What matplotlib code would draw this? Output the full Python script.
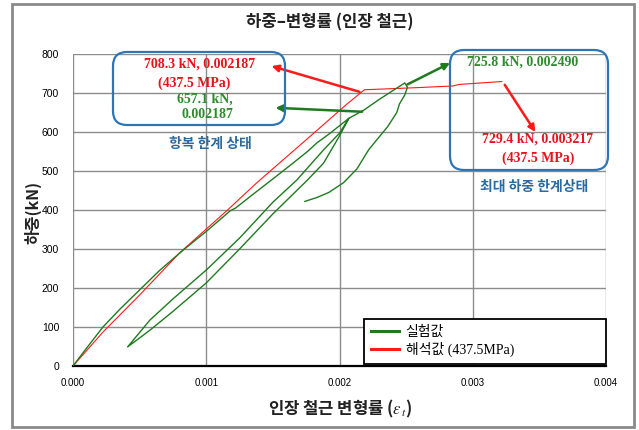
import matplotlib
matplotlib.use("Agg")
import matplotlib.pyplot as plt
from matplotlib.patches import FancyBboxPatch, Rectangle
from matplotlib.lines import Line2D

plt.rcParams['font.family'] = ['Noto Sans CJK KR', 'DejaVu Sans']
plt.rcParams['mathtext.fontset'] = 'stix'
plt.rcParams['axes.unicode_minus'] = False

# 실험값: 초기 재하 -> 제하 -> 재재하 -> 최대하중 -> 제하
exp_strain = [0.0, 0.0001, 0.000225, 0.00035, 0.0005, 0.00065, 0.000826, 0.001,
              0.00118, 0.00122, 0.00135, 0.00149, 0.00165, 0.00176, 0.00183,
              0.00193, 0.00207,
              0.00200, 0.00188, 0.00176, 0.0015, 0.00125, 0.001, 0.00075,
              0.000578, 0.00041,
              0.000578, 0.00075, 0.001, 0.00125, 0.0015, 0.00168, 0.00188,
              0.00200, 0.00207,
              0.002187, 0.0023, 0.0024, 0.00249,
              0.00251, 0.00249, 0.00245, 0.00243, 0.00236, 0.00228, 0.00222,
              0.00213, 0.00203, 0.00192, 0.00183, 0.00174]
exp_load = [0, 45, 100, 145, 195, 245, 297, 345,
            398, 405, 440, 477, 520, 550, 572,
            597, 635,
            590, 520, 477, 390, 300, 213, 140,
            92, 49,
            118, 172, 246, 328, 420, 477, 554,
            597, 635,
            657.1, 684, 706, 725.8,
            715, 695, 672, 650, 613, 580, 555,
            505, 470, 445, 432, 422]

# 해석값 (437.5MPa)
ana_strain = [0.0, 0.000225, 0.0005, 0.0008, 0.00116, 0.00138, 0.0018, 0.00205,
              0.002187, 0.0026, 0.00285, 0.0029, 0.003217]
ana_load = [0, 87, 182, 290, 400, 470, 595, 670,
            708.3, 714, 718, 722, 729.4]

x_ticks = [0.0, 0.001, 0.002, 0.003, 0.004]
y_ticks = [0, 100, 200, 300, 400, 500, 600, 700, 800]

GREEN = '#1f7a1f'
RED = '#ff1a1a'
TXT_GREEN = '#2f8a2f'
TXT_RED = '#e8121c'
BLUE = '#2e75b6'
TXT_BLUE = '#2a6aa0'

W, H = 639, 430
fig = plt.figure(figsize=(W / 100, H / 100), dpi=100, facecolor='white')
ax = fig.add_axes([73 / W, 1 - 366 / H, 533 / W, 312 / H])


def fx(px):
    return px / W


def fy(py):
    return 1 - py / H


ax.plot(exp_strain, exp_load, color=GREEN, lw=1.0, zorder=3)
ax.plot(ana_strain, ana_load, color=RED, lw=0.8, zorder=2)

ax.set_xlim(0, 0.004)
ax.set_ylim(0, 800)
ax.set_xticks(x_ticks)
ax.set_yticks(y_ticks)
ax.set_xticklabels(['%.3f' % v for v in x_ticks], family='Liberation Sans', fontsize=7)
ax.set_yticklabels(['%d' % v for v in y_ticks], family='Liberation Sans', fontsize=7.5)
ax.tick_params(axis='x', length=0, pad=9)
ax.tick_params(axis='y', length=0, pad=10)
ax.grid(True, color='#8c8c8c', lw=1.0)
ax.set_axisbelow(True)
for side in ['left', 'top', 'right']:
    ax.spines[side].set_visible(False)
ax.spines['bottom'].set_color('black')
ax.spines['bottom'].set_linewidth(1.6)

fig.text(fx(330), fy(22), '하중–변형률 (인장 철근)', ha='center', va='center',
         fontsize=12, fontweight='bold', color='#222222')
fig.text(fx(33), fy(212), '하중(kN)', ha='center', va='center', rotation=90,
         fontsize=11.5, fontweight='bold', color='#222222')
fig.text(fx(340), fy(409), r'인장 철근 변형률 ($\varepsilon_{\,t}$)', ha='center', va='center',
         fontsize=12, fontweight='bold', color='#222222')

# 설명 상자
for x0, y0, x1, y1 in [(113, 52, 285, 125), (450, 50, 608, 170)]:
    box = FancyBboxPatch((fx(x0), fy(y1)), fx(x1) - fx(x0), fy(y0) - fy(y1),
                         boxstyle='round,pad=0,rounding_size=0.022',
                         mutation_aspect=W / H, transform=fig.transFigure,
                         fc='none', ec=BLUE, lw=1.6, zorder=5)
    fig.add_artist(box)

serif = dict(family='Liberation Serif', fontweight='bold', fontsize=10,
             ha='center', va='center')
fig.text(fx(200), fy(64), '708.3 kN, 0.002187', color=TXT_RED, **serif)
fig.text(fx(194), fy(83), '(437.5 MPa)', color=TXT_RED, **serif)
fig.text(fx(205), fy(99), '657.1 kN,', color=TXT_GREEN, **serif)
fig.text(fx(207), fy(115), '0.002187', color=TXT_GREEN, **serif)
fig.text(fx(523), fy(62), '725.8 kN, 0.002490', color=TXT_GREEN, **serif)
fig.text(fx(538), fy(139), '729.4 kN, 0.003217', color=TXT_RED, **serif)
fig.text(fx(538), fy(158), '(437.5 MPa)', color=TXT_RED, **serif)

fig.text(fx(210), fy(144), '항복 한계 상태', ha='center', va='center',
         fontsize=10, fontweight='bold', color=TXT_BLUE)
fig.text(fx(534), fy(187), '최대 하중 한계상태', ha='center', va='center',
         fontsize=10, fontweight='bold', color=TXT_BLUE)

# 화살표
arrows = [
    ((0.00215, 703), (0.00149, 769), RED),
    ((0.00217, 652), (0.00152, 662), GREEN),
    ((0.00251, 722), (0.00283, 777), GREEN),
    ((0.00324, 721), (0.00347, 600), RED),
]
for start, end, col in arrows:
    ax.annotate('', xy=end, xytext=start, annotation_clip=False,
                arrowprops=dict(arrowstyle='-|>', color=col, lw=1.8,
                                mutation_scale=10, shrinkA=0, shrinkB=0),
                zorder=6)

handles = [Line2D([], [], color=GREEN, lw=2.2), Line2D([], [], color=RED, lw=2.2)]
leg = ax.legend(handles, ['실험값', '해석값 (437.5MPa)'],
                loc='lower left', bbox_to_anchor=(0.546, 0.008, 0.454, 0.17),
                mode='expand', borderaxespad=0, fancybox=False, framealpha=1,
                handlelength=2.0, handletextpad=0.5, labelspacing=0.15,
                borderpad=0.5,
                prop=dict(family=['Liberation Serif', 'Noto Sans CJK KR'], size=10))
leg.get_frame().set_edgecolor('black')
leg.get_frame().set_linewidth(1.3)
leg.set_zorder(7)

fig.add_artist(Rectangle((fx(12), fy(427)), fx(634) - fx(12), fy(4) - fy(427),
                         transform=fig.transFigure, fc='none', ec='#8a8a8a', lw=2))

fig.savefig('out.png', dpi=100)
